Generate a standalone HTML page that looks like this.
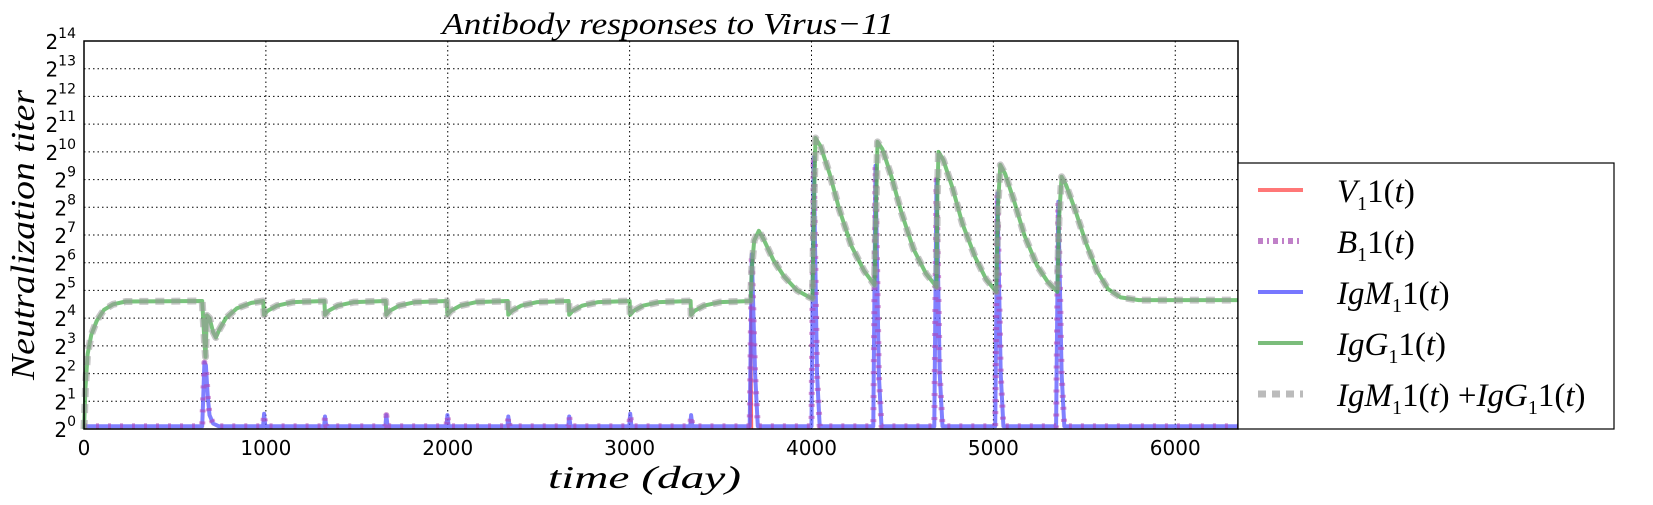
<!DOCTYPE html>
<html><head><meta charset="utf-8">
<style>
body{margin:0;background:#fff;}
svg{display:block;}
.tick{font-family:"DejaVu Sans","Liberation Sans",sans-serif;font-size:20px;fill:#000;}
.m{font-family:"Liberation Serif",serif;font-style:italic;fill:#000;}
</style></head>
<body>
<svg id="chart" width="1653" height="505" xmlns="http://www.w3.org/2000/svg">
<rect width="1653" height="505" fill="#fff"/>
<g id="grid"></g>
<g id="series"></g>
<rect x="84" y="41" width="1154" height="388" fill="none" stroke="#000" stroke-width="1.5"/>
<g id="ticks"></g>
<text x="442" y="34" textLength="452" lengthAdjust="spacingAndGlyphs" class="m" font-size="31">Antibody responses to Virus−11</text>
<text x="548" y="488" textLength="193" lengthAdjust="spacingAndGlyphs" class="m" font-size="32">time (day)</text>
<text transform="translate(34,380) rotate(-90)" textLength="290" lengthAdjust="spacingAndGlyphs" class="m" font-size="34">Neutralization  titer</text>
<g>
<rect x="1238" y="163" width="376" height="266" fill="#fff" stroke="#000" stroke-width="1.2"/>
<line x1="1258" y1="190" x2="1303" y2="190" stroke="#f77" stroke-width="4"/>
<text x="1337" y="202" class="m" font-size="33">V<tspan font-size="20" dy="8" font-style="normal">1</tspan><tspan dy="-8" font-style="normal">1(</tspan>t<tspan font-style="normal">)</tspan></text>
<line x1="1258" y1="241" x2="1303" y2="241" stroke="#c080c8" stroke-width="6" stroke-dasharray="5,4,2,4"/>
<text x="1337" y="253" class="m" font-size="33">B<tspan font-size="20" dy="8" font-style="normal">1</tspan><tspan dy="-8" font-style="normal">1(</tspan>t<tspan font-style="normal">)</tspan></text>
<line x1="1258" y1="292" x2="1303" y2="292" stroke="#77f" stroke-width="4"/>
<text x="1337" y="304" class="m" font-size="33">IgM<tspan font-size="20" dy="8" font-style="normal">1</tspan><tspan dy="-8" font-style="normal">1(</tspan>t<tspan font-style="normal">)</tspan></text>
<line x1="1258" y1="343" x2="1303" y2="343" stroke="#7bbd7b" stroke-width="4"/>
<text x="1337" y="355" class="m" font-size="33">IgG<tspan font-size="20" dy="8" font-style="normal">1</tspan><tspan dy="-8" font-style="normal">1(</tspan>t<tspan font-style="normal">)</tspan></text>
<line x1="1258" y1="394" x2="1303" y2="394" stroke="#bbb" stroke-width="7" stroke-dasharray="8,6"/>
<text x="1337" y="406" class="m" font-size="33">IgM<tspan font-size="20" dy="8" font-style="normal">1</tspan><tspan dy="-8" font-style="normal">1(</tspan>t<tspan font-style="normal">) +</tspan>IgG<tspan font-size="20" dy="8" font-style="normal">1</tspan><tspan dy="-8" font-style="normal">1(</tspan>t<tspan font-style="normal">)</tspan></text>
</g>
</svg>
<script>
const xTicks=[0,1000,2000,3000,4000,5000,6000];
const yTicks=[0,1,2,3,4,5,6,7,8,9,10,11,12,13,14];
const iggSeries=[[0,0],[8,1.5],[20,2.7],[40,3.4],[70,3.9],[110,4.3],[160,4.5],[230,4.6],[650,4.62],[662,3.2],[668,2.6],[676,4.1],[690,4.0],[710,3.5],[725,3.3],[745,3.6],[780,4.0],[840,4.35],[920,4.55],[985,4.62],
[990,4.12],[1010,4.27],[1060,4.45],[1150,4.58],[1322,4.62],
[1325,4.12],[1345,4.27],[1395,4.45],[1485,4.58],[1659,4.62],
[1662,4.12],[1682,4.27],[1732,4.45],[1822,4.58],[1995,4.62],
[1998,4.12],[2018,4.27],[2068,4.45],[2158,4.58],[2330,4.62],
[2333,4.12],[2353,4.27],[2403,4.45],[2493,4.58],[2665,4.62],
[2668,4.12],[2688,4.27],[2738,4.45],[2828,4.58],[3000,4.62],
[3003,4.12],[3023,4.27],[3073,4.45],[3163,4.58],[3335,4.62],
[3338,4.12],[3358,4.27],[3408,4.45],[3498,4.58],[3665,4.62],
[3672,5.8],[3685,6.8],[3710,7.15],[3740,6.8],[3790,6.1],[3850,5.5],[3920,5.0],[3990,4.75],[4005,4.7],[4015,8.5],[4022,10.5],[4050,10.2],[4100,9.2],[4154,7.9],[4220,6.6],[4290,5.7],[4346,5.2],[4355,8],[4363,10.36],[4390,10.1],[4440,9.1],[4495,7.8],[4560,6.5],[4630,5.6],[4687,5.13],[4692,8.5],[4698,10.0],[4725,9.7],[4775,8.7],[4830,7.4],[4900,6.2],[4960,5.4],[5016,4.95],[5025,8],[5038,9.53],[5065,9.2],[5115,8.2],[5170,7.0],[5240,5.9],[5300,5.3],[5352,4.95],[5360,7.5],[5375,9.1],[5400,8.8],[5450,7.9],[5510,6.7],[5570,5.7],[5630,5.05],[5700,4.75],[5800,4.65],[6345,4.65]];
const igmSeries=[[0,0.1],[650,0.1],[655,1],[662,2.4],[670,2.3],[680,1.2],[690,0.5],[710,0.2],[740,0.1],[985,0.1],[990,0.55],[997,0.1],[1320,0.1],[1325,0.45],[1332,0.1],[1657,0.1],[1662,0.5],[1669,0.1],[1993,0.1],[1998,0.5],[2005,0.1],[2328,0.1],[2333,0.45],[2340,0.1],[2663,0.1],[2668,0.45],[2675,0.1],[2998,0.1],[3003,0.55],[3010,0.1],[3333,0.1],[3338,0.5],[3345,0.1],[3660,0.1],[3672,6.3],[3690,2],[3705,0.1],[4000,0.1],[4012,9.8],[4030,2],[4045,0.1],[4340,0.1],[4352,9.5],[4370,2],[4385,0.1],[4675,0.1],[4687,9.0],[4705,2],[4720,0.1],[5010,0.1],[5022,8.5],[5040,2],[5055,0.1],[5345,0.1],[5357,8.2],[5375,2],[5390,0.1],[6345,0.1]];
const virusSeries=[[3660,0],[3667,5],[3674,0]];
const X0=84,X1=1238,Y0=429,Y1=41,XMAX=6345,YMAX=14;
const xs=t=>X0+(X1-X0)*t/XMAX;
const ys=v=>Y0-(Y0-Y1)*v/YMAX;
const NS='http://www.w3.org/2000/svg';
const grid=document.getElementById('grid'),ticks=document.getElementById('ticks'),ser=document.getElementById('series');
xTicks.forEach(t=>{
 const l=document.createElementNS(NS,'line');
 l.setAttribute('x1',xs(t));l.setAttribute('x2',xs(t));l.setAttribute('y1',Y1);l.setAttribute('y2',Y0);
 l.setAttribute('stroke','#000');l.setAttribute('stroke-width','1');l.setAttribute('stroke-dasharray','1.5,3');
 
 
 grid.appendChild(l);
 const tx=document.createElementNS(NS,'text');
 tx.setAttribute('x',xs(t));tx.setAttribute('y',Y0+26);tx.setAttribute('text-anchor','middle');tx.setAttribute('class','tick');
 tx.textContent=t;
 
 
 ticks.appendChild(tx);
});
yTicks.forEach(v=>{
 const l=document.createElementNS(NS,'line');
 l.setAttribute('x1',X0);l.setAttribute('x2',X1);l.setAttribute('y1',ys(v));l.setAttribute('y2',ys(v));
 l.setAttribute('stroke','#000');l.setAttribute('stroke-width','1');l.setAttribute('stroke-dasharray','1.5,3');
 
 
 grid.appendChild(l);
 const tx=document.createElementNS(NS,'text');
 tx.setAttribute('x',X0-8);tx.setAttribute('y',ys(v)+8);tx.setAttribute('text-anchor','end');tx.setAttribute('class','tick');
 tx.innerHTML='2<tspan font-size="14" dy="-11">'+v+'</tspan>';
 
 
 ticks.appendChild(tx);
});
function path(data,stroke,w,dash,op,name){
 const p=document.createElementNS(NS,'polyline');
 p.setAttribute('points',data.map(d=>xs(d[0]).toFixed(1)+','+ys(d[1]).toFixed(1)).join(' '));
 p.setAttribute('fill','none');p.setAttribute('stroke',stroke);p.setAttribute('stroke-width',w);
 p.setAttribute('stroke-linejoin','round');
 if(dash)p.setAttribute('stroke-dasharray',dash);
 p.setAttribute('stroke-opacity',op);
 
 
 ser.appendChild(p);
}
path(virusSeries,'#f44',2,null,0.8,'virus-line');
path(igmSeries,'#55f',4,null,0.75,'igm-line');
path(igmSeries,'#b040b0',6,'3,9',0.55,'b-cell-line');
path(iggSeries,'#4caf50',4,null,0.75,'igg-line');
path(iggSeries,'#999',7,'9,7',0.55,'igm-plus-igg-line');
</script>
</body></html>
